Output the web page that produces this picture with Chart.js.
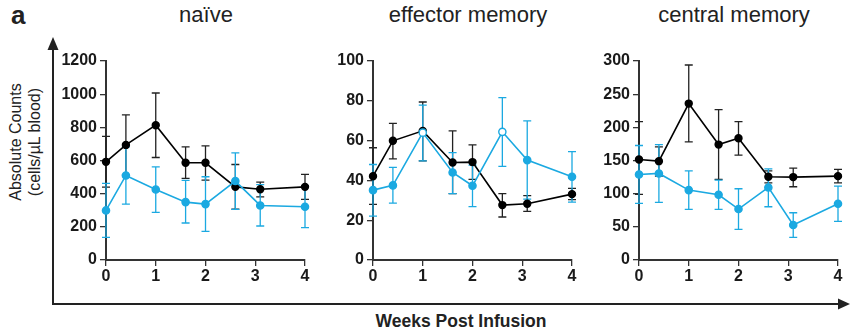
<!DOCTYPE html>
<html>
<head>
<meta charset="utf-8">
<script src="https://cdn.jsdelivr.net/npm/chart.js@4"></script>
<style>
  body { margin:0; background:#fff; }
  #wrap { position:relative; width:850px; height:331px; overflow:hidden; font-family:"Liberation Sans", Arial, sans-serif; color:#222; }
  canvas { position:absolute; }
  .ttl { position:absolute; top:2px; font-size:22px; width:240px; text-align:center; }
  #lab_a { position:absolute; left:11px; top:0px; font-size:26px; font-weight:bold; }
  #xtitle { position:absolute; left:331px; top:311px; width:260px; text-align:center; font-size:17.5px; font-weight:bold; }
  #ytitle { position:absolute; left:25px; top:142px; width:200px; margin-left:-100px; text-align:center; font-size:16px; line-height:19px; transform:translateY(-50%) rotate(-90deg); }
  svg { position:absolute; left:0; top:0; }
</style>
</head>
<body>
<div id="wrap">
  <div id="lab_a">a</div>
  <div class="ttl" style="left:86px">naïve</div>
  <div class="ttl" style="left:348px">effector memory</div>
  <div class="ttl" style="left:614px">central memory</div>
  <div id="ytitle">Absolute Counts<br>(cells/µL blood)</div>
  <div id="xtitle">Weeks Post Infusion</div>
  <svg width="850" height="331">
    <line x1="53" y1="46" x2="53" y2="305" stroke="#222" stroke-width="2"/>
    <polygon points="53,37 47.5,50 58.5,50" fill="#222"/>
    <line x1="52" y1="304" x2="840" y2="304" stroke="#222" stroke-width="2"/>
    <polygon points="850,304 838,298.5 838,309.5" fill="#222"/>
  </svg>
  <canvas id="c1" width="257" height="245" style="left:56px;top:48px"></canvas>
  <canvas id="c2" width="257" height="245" style="left:323px;top:48px"></canvas>
  <canvas id="c3" width="257" height="245" style="left:589px;top:48px"></canvas>
</div>
<script>
// weeks post infusion (same for every panel)
const weeks = [0, 0.4, 1, 1.6, 2, 2.6, 3.1, 4];

// naive
const naiveBlack   = [592, 694, 813, 586, 586, 441, 427, 441];
const naiveBlackLo = [440, 513, 618, 492, 482, 307, 381, 365];
const naiveBlackHi = [746, 875, 1007, 682, 688, 576, 470, 516];
const naiveBlue    = [299, 510, 425, 349, 337, 476, 329, 321];
const naiveBlueLo  = [136, 337, 287, 223, 173, 305, 205, 195];
const naiveBlueHi  = [462, 682, 562, 480, 502, 646, 454, 447];

// effector memory
const effBlack   = [42.1, 59.9, 64.9, 49.0, 49.2, 27.6, 28.3, 33.1];
const effBlackLo = [28.0, 50.8, 49.8, 33.4, 40.5, 21.6, 24.4, 30.3];
const effBlackHi = [56.4, 68.7, 79.4, 64.9, 57.9, 33.4, 32.3, 36.0];
const effBlue    = [35.1, 37.5, 64.0, 44.0, 37.3, 64.4, 50.2, 41.8];
const effBlueLo  = [22.0, 28.6, 49.8, 33.4, 26.8, 47.0, 30.6, 29.1];
const effBlueHi  = [48.0, 46.5, 77.8, 54.0, 47.7, 81.6, 69.9, 54.5];
const effBlueOpen = [1, 2.6];

// central memory
const cmBlack   = [151.5, 149, 235.8, 174, 183.6, 125.4, 125, 126.4];
const cmBlackLo = [99, 126.4, 178, 121.4, 158, 116.4, 110.4, 116.4];
const cmBlackHi = [208.7, 170.6, 294, 226.8, 208.7, 134.5, 138.5, 136.5];
const cmBlue    = [129, 130.5, 105.4, 98.3, 76.8, 109.4, 52.7, 84.8];
const cmBlueLo  = [85.3, 86.8, 76.3, 76.3, 46.2, 80.3, 34.1, 58.2];
const cmBlueHi  = [172.6, 174, 134.5, 120.4, 107.4, 137.5, 71.2, 111.4];

const BLUE  = "#1ba9e1";
const BLACK = "#000000";
const AXIS  = "#333333";

// error bars, drawn under the lines
const errorBars = {
    id: "errorBars",
    beforeDatasetsDraw(chart){
        let ctx = chart.ctx;
        let xs  = chart.scales.x;
        let ys  = chart.scales.y;
        chart.data.datasets.slice().reverse().forEach(function(ds){
            ctx.save();
            ctx.strokeStyle = ds.errColor;
            ctx.lineWidth   = 1.3;
            ds.data.forEach(function(p, i){
                let x  = xs.getPixelForValue(p.x);
                let y1 = ys.getPixelForValue(ds.lo[i]);
                let y2 = ys.getPixelForValue(ds.hi[i]);
                ctx.beginPath();
                ctx.moveTo(x, y1); ctx.lineTo(x, y2);
                ctx.moveTo(x - 4, y1); ctx.lineTo(x + 4, y1);
                ctx.moveTo(x - 4, y2); ctx.lineTo(x + 4, y2);
                ctx.stroke();
            });
            ctx.restore();
        });
    }
};

function pts(vals){
    return weeks.map(function(w, i){ return {x: w, y: vals[i]}; });
}

function draw_panel(id, ymax, ystep, blue, blueLo, blueHi, black, blackLo, blackHi, openAt){
    let fill = weeks.map(function(w){ return openAt.indexOf(w) >= 0 ? "#ffffff" : BLUE; });
    let tickFont = {family: "'Liberation Sans', Arial, sans-serif", size: 16, weight: "bold"};

    new Chart(document.getElementById(id), {
        type: "line",
        data: {
            datasets: [
                {
                    data: pts(blue), lo: blueLo, hi: blueHi, errColor: BLUE,
                    borderColor: BLUE, borderWidth: 1.6,
                    pointBackgroundColor: fill, pointBorderColor: BLUE,
                    pointBorderWidth: 1.4, pointRadius: 3.6, clip: false
                },
                {
                    data: pts(black), lo: blackLo, hi: blackHi, errColor: "#222",
                    borderColor: BLACK, borderWidth: 1.6,
                    pointBackgroundColor: BLACK, pointBorderColor: BLACK,
                    pointRadius: 3.4, clip: false
                }
            ]
        },
        options: {
            responsive: false,
            animation: false,
            layout: { padding: {top: 13, right: 8, bottom: 5, left: 0} },
            plugins: { legend: {display: false}, tooltip: {enabled: false} },
            scales: {
                x: {
                    type: "linear", min: 0, max: 4,
                    afterFit: function(s){ s.height = 28; },
                    ticks: { stepSize: 1, font: tickFont, color: "#1a1a1a", padding: 1,
                             callback: function(v){ return String(v); } },
                    grid: { drawOnChartArea: false, tickLength: 6, color: AXIS, lineWidth: 1.3 },
                    border: { color: AXIS, width: 2 }
                },
                y: {
                    min: 0, max: ymax,
                    afterFit: function(s){ s.width = 50; },
                    ticks: { stepSize: ystep, font: tickFont, color: "#1a1a1a", padding: 3,
                             callback: function(v){ return String(v); } },
                    grid: { drawOnChartArea: false, tickLength: 6, color: AXIS, lineWidth: 1.3 },
                    border: { color: AXIS, width: 2 }
                }
            }
        },
        plugins: [errorBars]
    });
}

draw_panel("c1", 1200, 200, naiveBlue, naiveBlueLo, naiveBlueHi, naiveBlack, naiveBlackLo, naiveBlackHi, []);
draw_panel("c2", 100, 20, effBlue, effBlueLo, effBlueHi, effBlack, effBlackLo, effBlackHi, effBlueOpen);
draw_panel("c3", 300, 50, cmBlue, cmBlueLo, cmBlueHi, cmBlack, cmBlackLo, cmBlackHi, []);
</script>
</body>
</html>
